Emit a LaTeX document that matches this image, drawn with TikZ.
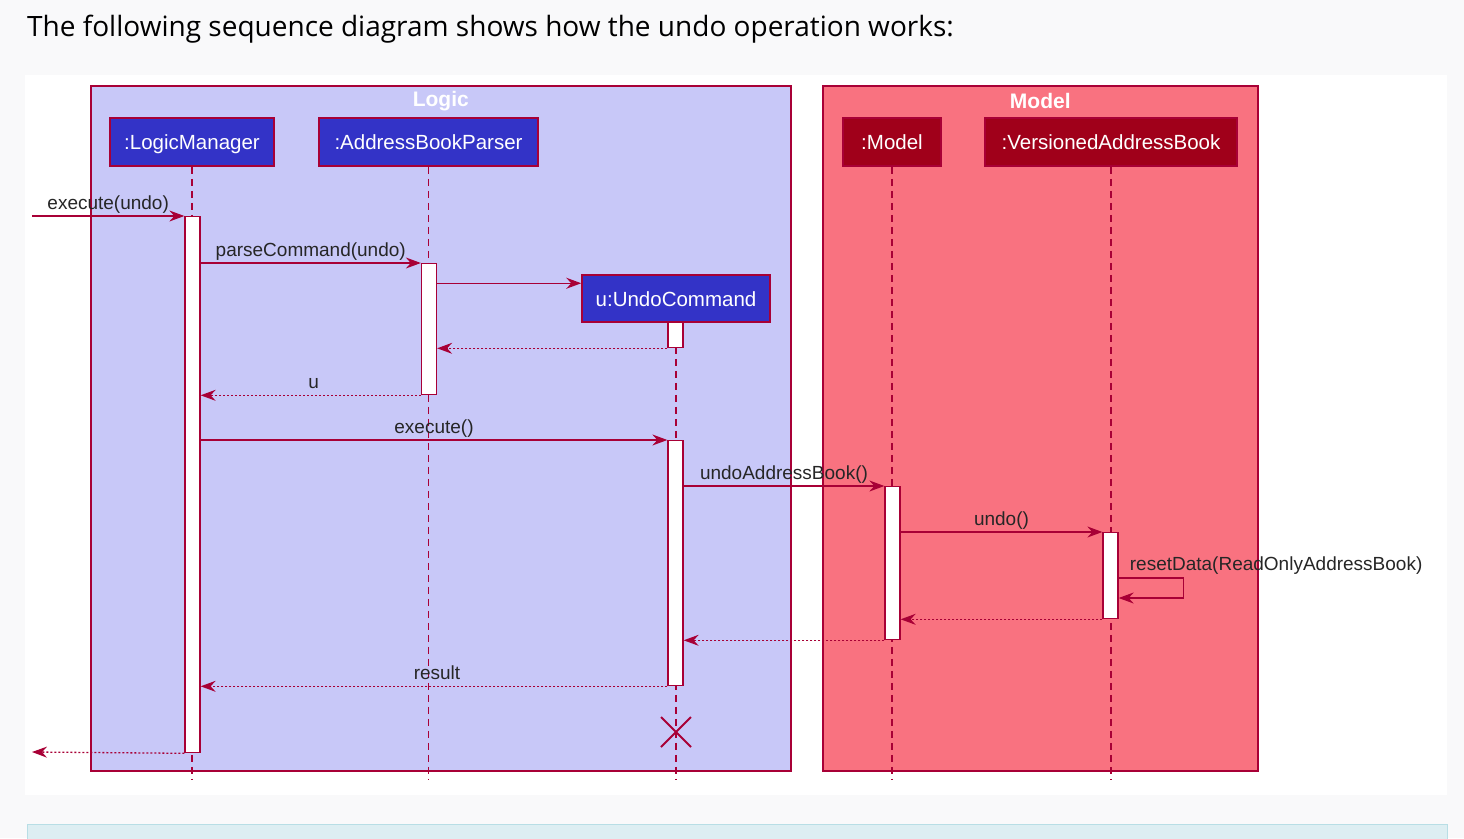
\documentclass[tikz,border=0pt]{standalone}
\usepackage{fontspec}
\setmainfont{Liberation Sans}
\newfontfamily\headfont{Open Sans}
\usepackage{xcolor}
\usepackage{tikz}
\usetikzlibrary{arrows.meta,positioning,calc}

\definecolor{umlred}{HTML}{A80036}
\definecolor{logicbg}{HTML}{C8C8F8}
\definecolor{modelbg}{HTML}{F97280}
\definecolor{logicobj}{HTML}{3333C7}
\definecolor{modelobj}{HTML}{A0001A}
\definecolor{pagebg}{HTML}{F9F9FA}
\definecolor{notebg}{HTML}{DDEEF2}
\definecolor{noteline}{HTML}{B8DEE5}

\tikzset{
  group/.style={draw=umlred, line width=1.5pt, anchor=north west, inner sep=0pt},
  grouptitle/.style={text=white, font=\fontsize{21}{24}\selectfont\bfseries},
  obj/.style={draw=umlred, line width=1.5pt, text=white, font=\fontsize{20.5}{24}\selectfont, minimum height=48pt, inner xsep=2pt, inner ysep=1pt, text height=19pt, text depth=4pt},
  bar/.style={draw=umlred, fill=white, line width=1.3pt, minimum width=15pt, inner sep=0pt, anchor=north},
  life/.style={umlred, line width=1.3pt, dash pattern=on 7pt off 5pt},
  msg/.style={umlred, line width=1.3pt, -{Stealth[length=15pt,width=11pt,inset=5pt]}},
  ret/.style={msg, dash pattern=on 2pt off 2pt},
  lbl/.style={text=black!85, font=\fontsize{19}{22}\selectfont, inner sep=2pt, text height=14pt, text depth=4pt},
}

\begin{document}
\begin{tikzpicture}[x=1pt,y=-1pt]
		\useasboundingbox (0,0) rectangle (1464,838);
		\fill[pagebg] (0,0) rectangle (1464,838);
		\fill[white] (25,75) rectangle (1447,795);
		\draw[noteline, fill=notebg] (27,824) rectangle (1447,845);

		\node[anchor=west, inner sep=0pt, font=\headfont\fontsize{28}{32}\selectfont] (head) at (27,29) {The following sequence diagram shows how the undo operation works:};

		% boxes
		\node[group, fill=logicbg, minimum width=700pt, minimum height=685pt] (logic) at (90,85) {};
		\node[group, fill=modelbg, minimum width=435pt, minimum height=685pt] (model) at (822,85) {};
		\node[grouptitle] (logictitle) at ([yshift=-16pt]logic.north) {Logic};
		\node[grouptitle] (modeltitle) at ([yshift=-16pt]model.north) {Model};

		% participants
		\node[obj, fill=logicobj, minimum width=164pt] (lm) at (192,142) {:LogicManager};
		\node[obj, fill=logicobj, minimum width=219pt] (abp) at (428.5,142) {:AddressBookParser};
		\node[obj, fill=logicobj, minimum width=188pt, minimum height=47pt] (uc) at (676,298.5) {u:UndoCommand};
		\node[obj, fill=modelobj, minimum width=98pt] (mdl) at (892,142) {:Model};
		\node[obj, fill=modelobj, minimum width=252pt] (vab) at (1111,142) {:VersionedAddressBook};

		\coordinate (bottom) at (0,780);
		\draw[life] (lm.south) -- (lm.south |- bottom);
		\draw[life] (abp.south) -- (abp.south |- bottom);
		\draw[life] (uc.south) -- (uc.south |- bottom);
		\draw[life] (mdl.south) -- (mdl.south |- bottom);
		\draw[life] (vab.south) -- (vab.south |- bottom);

		% activations
		\node[bar, minimum height=536pt] (aLM) at (192.5,216) {};
		\node[bar, minimum height=131pt] (aP) at (429,263) {};
		\node[bar, minimum height=25pt] (aU1) at (675.5,322) {};
		\node[bar, minimum height=245pt] (aU2) at (675.5,440) {};
		\node[bar, minimum height=153pt] (aM) at (892.5,486) {};
		\node[bar, minimum height=86pt] (aV) at (1110.5,532) {};

		% messages
		\coordinate (inL) at (32,216);
		\coordinate (outL) at (32,752);
		\draw[msg] (inL) -- (aLM.north west) node[lbl, midway, above] {execute(undo)};
		\draw[msg] (aLM.east |- aP.north) -- (aP.north west) node[lbl, midway, above] {parseCommand(undo)};
		\coordinate (mk) at ([yshift=-9pt]uc.north west);
		\draw[msg] (aP.east |- mk) -- (mk);
		\draw[ret] (aU1.south west) -- (aP.east |- aU1.south);
		\draw[ret] (aP.south west) -- (aLM.east |- aP.south) node[lbl, midway, above, xshift=3pt] {u};
		\draw[msg] (aLM.east |- aU2.north) -- (aU2.north west) node[lbl, midway, above] {execute()};
		\draw[msg] (aU2.east |- aM.north) -- (aM.north west) node[lbl, midway, above] {undoAddressBook()};
		\draw[msg] (aM.east |- aV.north) -- (aV.north west) node[lbl, midway, above] {undo()};
		\coordinate (s1) at ([yshift=-46pt]aV.north east);
		\coordinate (s2) at ([yshift=-66pt]aV.north east);
		\draw[msg] (s1) -- ++(65,0) |- (s2);
		\node[lbl, anchor=south west] (rd) at ([xshift=9pt,yshift=1pt]s1) {resetData(ReadOnlyAddressBook)};
		\draw[ret] (aV.south west) -- (aM.east |- aV.south);
		\draw[ret] (aM.south west) -- (aU2.east |- aM.south);
		\draw[ret] (aU2.south west) -- (aLM.east |- aU2.south) node[lbl, midway, above, xshift=3pt] {result};
		\draw[ret] (aLM.south west) -- (outL);

		% destroy
		\coordinate (kill) at (676,732);
		\draw[umlred, line width=2pt] ([shift={(-15,-15)}]kill) -- ([shift={(15,15)}]kill) ([shift={(-15,15)}]kill) -- ([shift={(15,-15)}]kill);
	\end{tikzpicture}
\end{document}
